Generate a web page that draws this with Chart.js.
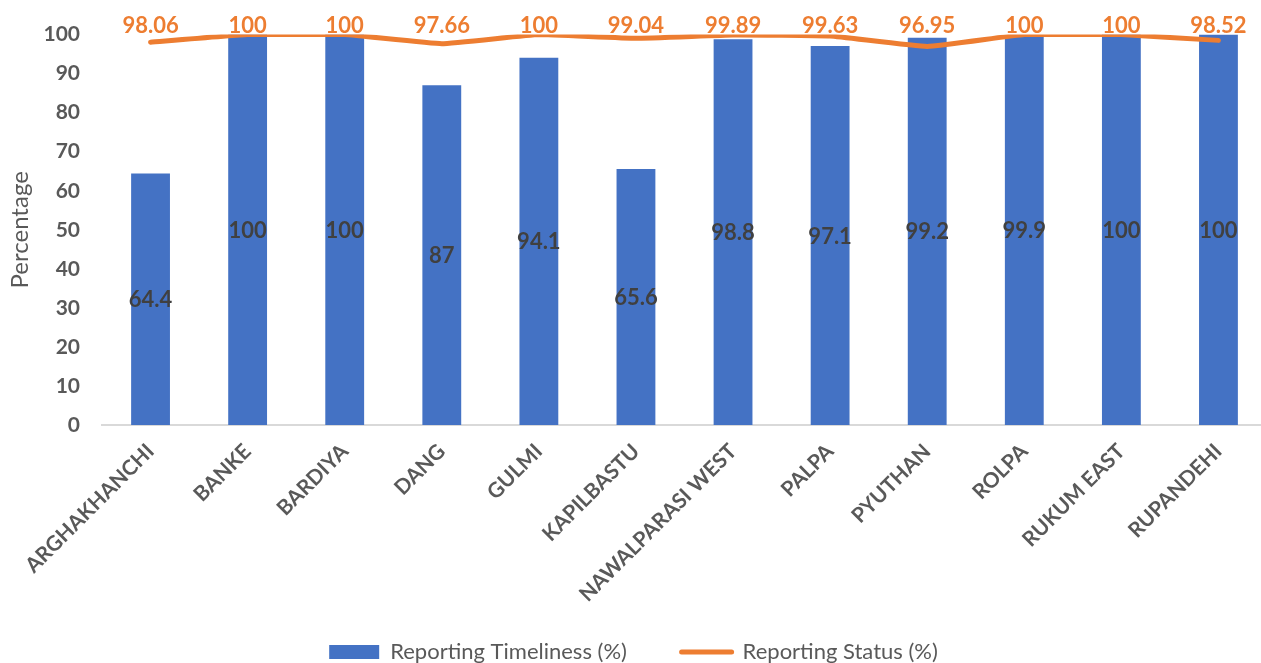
<!DOCTYPE html>
<html>
<head>
<meta charset="utf-8">
<script src="https://cdn.jsdelivr.net/npm/chart.js@4"></script>
<style>
body { margin: 0; overflow: hidden; background: #fff; }
#wrap { position: absolute; left: 0; top: 0; width: 1268px; height: 663px; }
</style>
</head>
<body>
<div id="wrap"><canvas id="chart"></canvas></div>
<script>
// values
const districts = ["ARGHAKHANCHI", "BANKE", "BARDIYA", "DANG", "GULMI", "KAPILBASTU",
  "NAWALPARASI WEST", "PALPA", "PYUTHAN", "ROLPA", "RUKUM EAST", "RUPANDEHI"];
const timeliness = [64.4, 100, 100, 87, 94.1, 65.6, 98.8, 97.1, 99.2, 99.9, 100, 100];
const reportStatus = [98.06, 100, 100, 97.66, 100, 99.04, 99.89, 99.63, 96.95, 100, 100, 98.52];
const yTicks = [0, 10, 20, 30, 40, 50, 60, 70, 80, 90, 100];
const seriesNames = ["Reporting Timeliness (%)", "Reporting Status (%)"];

const BLUE = "#4472C4";
const ORANGE = "#ED7D31";
const GREY = "#595959";
const FONT = "Lato";

// draws the value labels (bars: centred, line: above the plot)
const valueLabels = {
  id: "valueLabels",
  afterDatasetsDraw(chart) {
    const ctx = chart.ctx;
    ctx.save();
    ctx.textAlign = "center";
    ctx.textBaseline = "middle";
    ctx.font = "bold 22px " + FONT;

    ctx.fillStyle = "#404040";
    chart.getDatasetMeta(0).data.forEach((el, i) => {
      ctx.fillText(String(timeliness[i]), el.x, (el.y + el.base) / 2 + 1);
    });

    ctx.fillStyle = ORANGE;
    const top = chart.chartArea.top;
    chart.getDatasetMeta(1).data.forEach((el, i) => {
      ctx.fillText(String(reportStatus[i]), el.x, Math.max(el.y - 22, top - 9));
    });
    ctx.restore();
  }
};

new Chart(document.getElementById("chart"), {
  data: {
    labels: districts,
    datasets: [
      {
        type: "bar",
        label: seriesNames[0],
        data: timeliness,
        backgroundColor: BLUE,
        categoryPercentage: 1,
        barPercentage: 0.4,
        order: 1
      },
      {
        type: "line",
        label: seriesNames[1],
        data: reportStatus,
        borderColor: ORANGE,
        backgroundColor: ORANGE,
        borderWidth: 5,
        borderCapStyle: "round",
        borderJoinStyle: "round",
        tension: 0.1,
        pointRadius: 0,
        order: 0
      }
    ]
  },
  options: {
    responsive: true,
    maintainAspectRatio: false,
    animation: false,
    layout: { padding: { top: 34, right: 1, left: 0, bottom: -10 } },
    plugins: {
      tooltip: { enabled: false },
      legend: {
        position: "bottom",
        labels: {
          usePointStyle: true,
          pointStyleWidth: 50,
          boxHeight: 14,
          padding: 4,
          color: GREY,
          font: { family: FONT, size: 22 },
          generateLabels: (chart) => [
            {
              text: seriesNames[0] + "         ",
              fillStyle: BLUE, strokeStyle: BLUE, lineWidth: 0,
              pointStyle: "rect", datasetIndex: 0, hidden: false, fontColor: GREY
            },
            {
              text: seriesNames[1],
              fillStyle: ORANGE, strokeStyle: ORANGE, lineWidth: 5, lineCap: "round",
              pointStyle: "line", datasetIndex: 1, hidden: false, fontColor: GREY
            }
          ]
        }
      }
    },
    scales: {
      x: {
        grid: { display: false, drawTicks: false },
        border: { display: true, color: "#D9D9D9", width: 2 },
        ticks: {
          color: GREY,
          font: { family: FONT, size: 21, weight: "bold" },
          minRotation: 45,
          maxRotation: 45,
          autoSkip: false,
          padding: 14
        },
        afterFit: (scale) => { scale.height = 212; }
      },
      y: {
        min: yTicks[0],
        max: yTicks[yTicks.length - 1],
        grid: { display: false, drawTicks: false },
        border: { display: false },
        afterBuildTicks: (scale) => { scale.ticks = yTicks.map(v => ({ value: v })); },
        ticks: {
          color: GREY,
          font: { family: FONT, size: 21, weight: "bold" },
          padding: 22
        },
        title: {
          display: true,
          text: "Percentage",
          color: GREY,
          font: { family: FONT, size: 24 },
          padding: { top: 6, bottom: 0 }
        },
        afterFit: (scale) => { scale.width = 102; }
      }
    }
  },
  plugins: [valueLabels]
});
</script>
</body>
</html>
